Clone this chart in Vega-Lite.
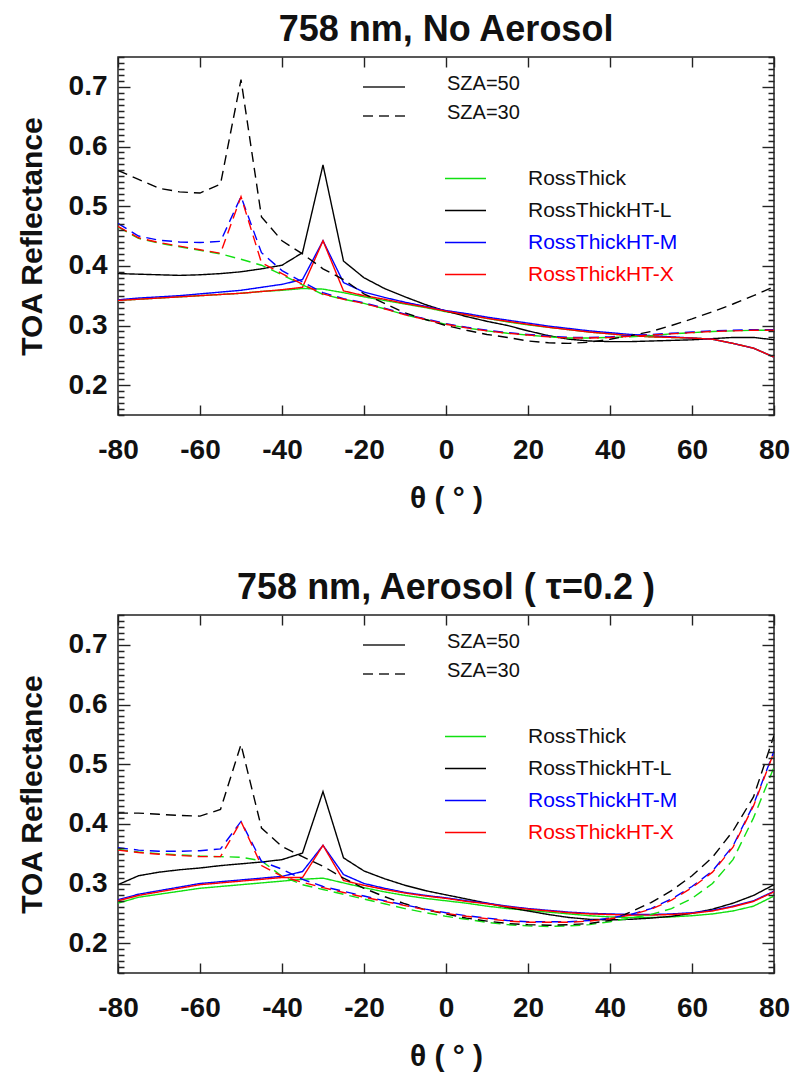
{
  "$schema": "https://vega.github.io/schema/vega-lite/v6.json",
  "padding": {"left": 16, "top": 11, "right": 14, "bottom": 5},
  "spacing": 55,
  "background": "white",
  "data": {"values": [
    {"p":1,"s":"SZA=50","t":-80,"RossThick":0.342,"RossThickHT-L":0.387,"RossThickHT-M":0.343,"RossThickHT-X":0.342},
    {"p":1,"s":"SZA=50","t":-75,"RossThick":0.344,"RossThickHT-L":0.386,"RossThickHT-M":0.346,"RossThickHT-X":0.344},
    {"p":1,"s":"SZA=50","t":-70,"RossThick":0.346,"RossThickHT-L":0.385,"RossThickHT-M":0.348,"RossThickHT-X":0.346},
    {"p":1,"s":"SZA=50","t":-65,"RossThick":0.348,"RossThickHT-L":0.384,"RossThickHT-M":0.350,"RossThickHT-X":0.348},
    {"p":1,"s":"SZA=50","t":-60,"RossThick":0.350,"RossThickHT-L":0.385,"RossThickHT-M":0.353,"RossThickHT-X":0.350},
    {"p":1,"s":"SZA=50","t":-55,"RossThick":0.352,"RossThickHT-L":0.387,"RossThickHT-M":0.356,"RossThickHT-X":0.352},
    {"p":1,"s":"SZA=50","t":-50,"RossThick":0.354,"RossThickHT-L":0.390,"RossThickHT-M":0.359,"RossThickHT-X":0.354},
    {"p":1,"s":"SZA=50","t":-45,"RossThick":0.357,"RossThickHT-L":0.395,"RossThickHT-M":0.364,"RossThickHT-X":0.357},
    {"p":1,"s":"SZA=50","t":-40,"RossThick":0.359,"RossThickHT-L":0.401,"RossThickHT-M":0.369,"RossThickHT-X":0.360},
    {"p":1,"s":"SZA=50","t":-35,"RossThick":0.362,"RossThickHT-L":0.422,"RossThickHT-M":0.377,"RossThickHT-X":0.364},
    {"p":1,"s":"SZA=50","t":-30,"RossThick":0.361,"RossThickHT-L":0.569,"RossThickHT-M":0.442,"RossThickHT-X":0.442},
    {"p":1,"s":"SZA=50","t":-25,"RossThick":0.355,"RossThickHT-L":0.408,"RossThickHT-M":0.372,"RossThickHT-X":0.358},
    {"p":1,"s":"SZA=50","t":-20,"RossThick":0.348,"RossThickHT-L":0.380,"RossThickHT-M":0.356,"RossThickHT-X":0.350},
    {"p":1,"s":"SZA=50","t":-15,"RossThick":0.342,"RossThickHT-L":0.362,"RossThickHT-M":0.347,"RossThickHT-X":0.344},
    {"p":1,"s":"SZA=50","t":-10,"RossThick":0.336,"RossThickHT-L":0.348,"RossThickHT-M":0.339,"RossThickHT-X":0.337},
    {"p":1,"s":"SZA=50","t":-5,"RossThick":0.330,"RossThickHT-L":0.335,"RossThickHT-M":0.332,"RossThickHT-X":0.331},
    {"p":1,"s":"SZA=50","t":0,"RossThick":0.323,"RossThickHT-L":0.324,"RossThickHT-M":0.325,"RossThickHT-X":0.324},
    {"p":1,"s":"SZA=50","t":5,"RossThick":0.318,"RossThickHT-L":0.315,"RossThickHT-M":0.320,"RossThickHT-X":0.318},
    {"p":1,"s":"SZA=50","t":10,"RossThick":0.312,"RossThickHT-L":0.307,"RossThickHT-M":0.314,"RossThickHT-X":0.312},
    {"p":1,"s":"SZA=50","t":15,"RossThick":0.306,"RossThickHT-L":0.300,"RossThickHT-M":0.309,"RossThickHT-X":0.307},
    {"p":1,"s":"SZA=50","t":20,"RossThick":0.301,"RossThickHT-L":0.291,"RossThickHT-M":0.304,"RossThickHT-X":0.302},
    {"p":1,"s":"SZA=50","t":25,"RossThick":0.297,"RossThickHT-L":0.283,"RossThickHT-M":0.299,"RossThickHT-X":0.297},
    {"p":1,"s":"SZA=50","t":30,"RossThick":0.293,"RossThickHT-L":0.277,"RossThickHT-M":0.295,"RossThickHT-X":0.293},
    {"p":1,"s":"SZA=50","t":35,"RossThick":0.289,"RossThickHT-L":0.274,"RossThickHT-M":0.291,"RossThickHT-X":0.289},
    {"p":1,"s":"SZA=50","t":40,"RossThick":0.286,"RossThickHT-L":0.273,"RossThickHT-M":0.288,"RossThickHT-X":0.286},
    {"p":1,"s":"SZA=50","t":45,"RossThick":0.283,"RossThickHT-L":0.273,"RossThickHT-M":0.285,"RossThickHT-X":0.283},
    {"p":1,"s":"SZA=50","t":50,"RossThick":0.281,"RossThickHT-L":0.274,"RossThickHT-M":0.283,"RossThickHT-X":0.281},
    {"p":1,"s":"SZA=50","t":55,"RossThick":0.280,"RossThickHT-L":0.275,"RossThickHT-M":0.281,"RossThickHT-X":0.280},
    {"p":1,"s":"SZA=50","t":60,"RossThick":0.279,"RossThickHT-L":0.276,"RossThickHT-M":0.279,"RossThickHT-X":0.279},
    {"p":1,"s":"SZA=50","t":65,"RossThick":0.277,"RossThickHT-L":0.278,"RossThickHT-M":0.277,"RossThickHT-X":0.277},
    {"p":1,"s":"SZA=50","t":70,"RossThick":0.270,"RossThickHT-L":0.280,"RossThickHT-M":0.270,"RossThickHT-X":0.270},
    {"p":1,"s":"SZA=50","t":75,"RossThick":0.262,"RossThickHT-L":0.280,"RossThickHT-M":0.262,"RossThickHT-X":0.262},
    {"p":1,"s":"SZA=50","t":80,"RossThick":0.247,"RossThickHT-L":0.276,"RossThickHT-M":0.247,"RossThickHT-X":0.247},

    {"p":1,"s":"SZA=30","t":-80,"RossThick":0.465,"RossThickHT-L":0.560,"RossThickHT-M":0.471,"RossThickHT-X":0.466},
    {"p":1,"s":"SZA=30","t":-75,"RossThick":0.446,"RossThickHT-L":0.545,"RossThickHT-M":0.450,"RossThickHT-X":0.447},
    {"p":1,"s":"SZA=30","t":-70,"RossThick":0.438,"RossThickHT-L":0.530,"RossThickHT-M":0.443,"RossThickHT-X":0.439},
    {"p":1,"s":"SZA=30","t":-65,"RossThick":0.432,"RossThickHT-L":0.524,"RossThickHT-M":0.440,"RossThickHT-X":0.433},
    {"p":1,"s":"SZA=30","t":-60,"RossThick":0.426,"RossThickHT-L":0.522,"RossThickHT-M":0.439,"RossThickHT-X":0.427},
    {"p":1,"s":"SZA=30","t":-55,"RossThick":0.420,"RossThickHT-L":0.537,"RossThickHT-M":0.441,"RossThickHT-X":0.421},
    {"p":1,"s":"SZA=30","t":-50,"RossThick":0.411,"RossThickHT-L":0.712,"RossThickHT-M":0.516,"RossThickHT-X":0.516},
    {"p":1,"s":"SZA=30","t":-45,"RossThick":0.401,"RossThickHT-L":0.482,"RossThickHT-M":0.422,"RossThickHT-X":0.405},
    {"p":1,"s":"SZA=30","t":-40,"RossThick":0.385,"RossThickHT-L":0.442,"RossThickHT-M":0.392,"RossThickHT-X":0.387},
    {"p":1,"s":"SZA=30","t":-35,"RossThick":0.368,"RossThickHT-L":0.420,"RossThickHT-M":0.373,"RossThickHT-X":0.369},
    {"p":1,"s":"SZA=30","t":-30,"RossThick":0.352,"RossThickHT-L":0.395,"RossThickHT-M":0.355,"RossThickHT-X":0.353},
    {"p":1,"s":"SZA=30","t":-25,"RossThick":0.344,"RossThickHT-L":0.377,"RossThickHT-M":0.345,"RossThickHT-X":0.344},
    {"p":1,"s":"SZA=30","t":-20,"RossThick":0.337,"RossThickHT-L":0.353,"RossThickHT-M":0.338,"RossThickHT-X":0.337},
    {"p":1,"s":"SZA=30","t":-15,"RossThick":0.328,"RossThickHT-L":0.337,"RossThickHT-M":0.329,"RossThickHT-X":0.328},
    {"p":1,"s":"SZA=30","t":-10,"RossThick":0.318,"RossThickHT-L":0.321,"RossThickHT-M":0.319,"RossThickHT-X":0.318},
    {"p":1,"s":"SZA=30","t":-5,"RossThick":0.310,"RossThickHT-L":0.310,"RossThickHT-M":0.311,"RossThickHT-X":0.310},
    {"p":1,"s":"SZA=30","t":0,"RossThick":0.302,"RossThickHT-L":0.300,"RossThickHT-M":0.303,"RossThickHT-X":0.302},
    {"p":1,"s":"SZA=30","t":5,"RossThick":0.296,"RossThickHT-L":0.292,"RossThickHT-M":0.297,"RossThickHT-X":0.296},
    {"p":1,"s":"SZA=30","t":10,"RossThick":0.291,"RossThickHT-L":0.285,"RossThickHT-M":0.292,"RossThickHT-X":0.291},
    {"p":1,"s":"SZA=30","t":15,"RossThick":0.287,"RossThickHT-L":0.280,"RossThickHT-M":0.288,"RossThickHT-X":0.287},
    {"p":1,"s":"SZA=30","t":20,"RossThick":0.284,"RossThickHT-L":0.274,"RossThickHT-M":0.285,"RossThickHT-X":0.284},
    {"p":1,"s":"SZA=30","t":25,"RossThick":0.281,"RossThickHT-L":0.271,"RossThickHT-M":0.282,"RossThickHT-X":0.281},
    {"p":1,"s":"SZA=30","t":30,"RossThick":0.279,"RossThickHT-L":0.270,"RossThickHT-M":0.280,"RossThickHT-X":0.279},
    {"p":1,"s":"SZA=30","t":35,"RossThick":0.279,"RossThickHT-L":0.272,"RossThickHT-M":0.280,"RossThickHT-X":0.279},
    {"p":1,"s":"SZA=30","t":40,"RossThick":0.280,"RossThickHT-L":0.277,"RossThickHT-M":0.281,"RossThickHT-X":0.280},
    {"p":1,"s":"SZA=30","t":45,"RossThick":0.281,"RossThickHT-L":0.283,"RossThickHT-M":0.283,"RossThickHT-X":0.282},
    {"p":1,"s":"SZA=30","t":50,"RossThick":0.283,"RossThickHT-L":0.290,"RossThickHT-M":0.285,"RossThickHT-X":0.284},
    {"p":1,"s":"SZA=30","t":55,"RossThick":0.286,"RossThickHT-L":0.300,"RossThickHT-M":0.287,"RossThickHT-X":0.286},
    {"p":1,"s":"SZA=30","t":60,"RossThick":0.288,"RossThickHT-L":0.311,"RossThickHT-M":0.289,"RossThickHT-X":0.288},
    {"p":1,"s":"SZA=30","t":65,"RossThick":0.290,"RossThickHT-L":0.323,"RossThickHT-M":0.291,"RossThickHT-X":0.290},
    {"p":1,"s":"SZA=30","t":70,"RossThick":0.291,"RossThickHT-L":0.336,"RossThickHT-M":0.292,"RossThickHT-X":0.291},
    {"p":1,"s":"SZA=30","t":75,"RossThick":0.292,"RossThickHT-L":0.350,"RossThickHT-M":0.293,"RossThickHT-X":0.292},
    {"p":1,"s":"SZA=30","t":80,"RossThick":0.292,"RossThickHT-L":0.365,"RossThickHT-M":0.293,"RossThickHT-X":0.292},

    {"p":2,"s":"SZA=50","t":-80,"RossThick":0.267,"RossThickHT-L":0.298,"RossThickHT-M":0.273,"RossThickHT-X":0.271},
    {"p":2,"s":"SZA=50","t":-75,"RossThick":0.277,"RossThickHT-L":0.313,"RossThickHT-M":0.282,"RossThickHT-X":0.280},
    {"p":2,"s":"SZA=50","t":-70,"RossThick":0.282,"RossThickHT-L":0.319,"RossThickHT-M":0.288,"RossThickHT-X":0.286},
    {"p":2,"s":"SZA=50","t":-65,"RossThick":0.287,"RossThickHT-L":0.323,"RossThickHT-M":0.294,"RossThickHT-X":0.292},
    {"p":2,"s":"SZA=50","t":-60,"RossThick":0.292,"RossThickHT-L":0.326,"RossThickHT-M":0.300,"RossThickHT-X":0.298},
    {"p":2,"s":"SZA=50","t":-55,"RossThick":0.295,"RossThickHT-L":0.330,"RossThickHT-M":0.303,"RossThickHT-X":0.301},
    {"p":2,"s":"SZA=50","t":-50,"RossThick":0.298,"RossThickHT-L":0.333,"RossThickHT-M":0.306,"RossThickHT-X":0.304},
    {"p":2,"s":"SZA=50","t":-45,"RossThick":0.301,"RossThickHT-L":0.336,"RossThickHT-M":0.309,"RossThickHT-X":0.307},
    {"p":2,"s":"SZA=50","t":-40,"RossThick":0.304,"RossThickHT-L":0.340,"RossThickHT-M":0.312,"RossThickHT-X":0.310},
    {"p":2,"s":"SZA=50","t":-35,"RossThick":0.307,"RossThickHT-L":0.351,"RossThickHT-M":0.320,"RossThickHT-X":0.310},
    {"p":2,"s":"SZA=50","t":-30,"RossThick":0.309,"RossThickHT-L":0.454,"RossThickHT-M":0.364,"RossThickHT-X":0.364},
    {"p":2,"s":"SZA=50","t":-25,"RossThick":0.301,"RossThickHT-L":0.343,"RossThickHT-M":0.315,"RossThickHT-X":0.305},
    {"p":2,"s":"SZA=50","t":-20,"RossThick":0.293,"RossThickHT-L":0.321,"RossThickHT-M":0.300,"RossThickHT-X":0.297},
    {"p":2,"s":"SZA=50","t":-15,"RossThick":0.286,"RossThickHT-L":0.308,"RossThickHT-M":0.292,"RossThickHT-X":0.290},
    {"p":2,"s":"SZA=50","t":-10,"RossThick":0.280,"RossThickHT-L":0.297,"RossThickHT-M":0.285,"RossThickHT-X":0.284},
    {"p":2,"s":"SZA=50","t":-5,"RossThick":0.275,"RossThickHT-L":0.288,"RossThickHT-M":0.280,"RossThickHT-X":0.279},
    {"p":2,"s":"SZA=50","t":0,"RossThick":0.271,"RossThickHT-L":0.281,"RossThickHT-M":0.276,"RossThickHT-X":0.275},
    {"p":2,"s":"SZA=50","t":5,"RossThick":0.267,"RossThickHT-L":0.274,"RossThickHT-M":0.271,"RossThickHT-X":0.270},
    {"p":2,"s":"SZA=50","t":10,"RossThick":0.262,"RossThickHT-L":0.267,"RossThickHT-M":0.267,"RossThickHT-X":0.266},
    {"p":2,"s":"SZA=50","t":15,"RossThick":0.258,"RossThickHT-L":0.260,"RossThickHT-M":0.262,"RossThickHT-X":0.261},
    {"p":2,"s":"SZA=50","t":20,"RossThick":0.255,"RossThickHT-L":0.254,"RossThickHT-M":0.258,"RossThickHT-X":0.257},
    {"p":2,"s":"SZA=50","t":25,"RossThick":0.252,"RossThickHT-L":0.248,"RossThickHT-M":0.255,"RossThickHT-X":0.254},
    {"p":2,"s":"SZA=50","t":30,"RossThick":0.249,"RossThickHT-L":0.243,"RossThickHT-M":0.252,"RossThickHT-X":0.251},
    {"p":2,"s":"SZA=50","t":35,"RossThick":0.246,"RossThickHT-L":0.240,"RossThickHT-M":0.250,"RossThickHT-X":0.249},
    {"p":2,"s":"SZA=50","t":40,"RossThick":0.244,"RossThickHT-L":0.239,"RossThickHT-M":0.249,"RossThickHT-X":0.248},
    {"p":2,"s":"SZA=50","t":45,"RossThick":0.243,"RossThickHT-L":0.240,"RossThickHT-M":0.248,"RossThickHT-X":0.247},
    {"p":2,"s":"SZA=50","t":50,"RossThick":0.243,"RossThickHT-L":0.242,"RossThickHT-M":0.248,"RossThickHT-X":0.247},
    {"p":2,"s":"SZA=50","t":55,"RossThick":0.244,"RossThickHT-L":0.245,"RossThickHT-M":0.249,"RossThickHT-X":0.248},
    {"p":2,"s":"SZA=50","t":60,"RossThick":0.246,"RossThickHT-L":0.250,"RossThickHT-M":0.251,"RossThickHT-X":0.250},
    {"p":2,"s":"SZA=50","t":65,"RossThick":0.249,"RossThickHT-L":0.257,"RossThickHT-M":0.255,"RossThickHT-X":0.254},
    {"p":2,"s":"SZA=50","t":70,"RossThick":0.254,"RossThickHT-L":0.267,"RossThickHT-M":0.262,"RossThickHT-X":0.261},
    {"p":2,"s":"SZA=50","t":75,"RossThick":0.262,"RossThickHT-L":0.280,"RossThickHT-M":0.271,"RossThickHT-X":0.270},
    {"p":2,"s":"SZA=50","t":80,"RossThick":0.279,"RossThickHT-L":0.298,"RossThickHT-M":0.287,"RossThickHT-X":0.286},

    {"p":2,"s":"SZA=30","t":-80,"RossThick":0.357,"RossThickHT-L":0.418,"RossThickHT-M":0.360,"RossThickHT-X":0.356},
    {"p":2,"s":"SZA=30","t":-75,"RossThick":0.353,"RossThickHT-L":0.418,"RossThickHT-M":0.356,"RossThickHT-X":0.352},
    {"p":2,"s":"SZA=30","t":-70,"RossThick":0.350,"RossThickHT-L":0.416,"RossThickHT-M":0.354,"RossThickHT-X":0.349},
    {"p":2,"s":"SZA=30","t":-65,"RossThick":0.348,"RossThickHT-L":0.414,"RossThickHT-M":0.354,"RossThickHT-X":0.347},
    {"p":2,"s":"SZA=30","t":-60,"RossThick":0.346,"RossThickHT-L":0.413,"RossThickHT-M":0.355,"RossThickHT-X":0.345},
    {"p":2,"s":"SZA=30","t":-55,"RossThick":0.345,"RossThickHT-L":0.424,"RossThickHT-M":0.358,"RossThickHT-X":0.345},
    {"p":2,"s":"SZA=30","t":-50,"RossThick":0.344,"RossThickHT-L":0.533,"RossThickHT-M":0.404,"RossThickHT-X":0.404},
    {"p":2,"s":"SZA=30","t":-45,"RossThick":0.338,"RossThickHT-L":0.393,"RossThickHT-M":0.337,"RossThickHT-X":0.330},
    {"p":2,"s":"SZA=30","t":-40,"RossThick":0.312,"RossThickHT-L":0.362,"RossThickHT-M":0.324,"RossThickHT-X":0.312},
    {"p":2,"s":"SZA=30","t":-35,"RossThick":0.298,"RossThickHT-L":0.345,"RossThickHT-M":0.307,"RossThickHT-X":0.302},
    {"p":2,"s":"SZA=30","t":-30,"RossThick":0.290,"RossThickHT-L":0.329,"RossThickHT-M":0.295,"RossThickHT-X":0.293},
    {"p":2,"s":"SZA=30","t":-25,"RossThick":0.282,"RossThickHT-L":0.309,"RossThickHT-M":0.287,"RossThickHT-X":0.285},
    {"p":2,"s":"SZA=30","t":-20,"RossThick":0.274,"RossThickHT-L":0.292,"RossThickHT-M":0.279,"RossThickHT-X":0.277},
    {"p":2,"s":"SZA=30","t":-15,"RossThick":0.266,"RossThickHT-L":0.278,"RossThickHT-M":0.271,"RossThickHT-X":0.270},
    {"p":2,"s":"SZA=30","t":-10,"RossThick":0.258,"RossThickHT-L":0.266,"RossThickHT-M":0.264,"RossThickHT-X":0.263},
    {"p":2,"s":"SZA=30","t":-5,"RossThick":0.251,"RossThickHT-L":0.256,"RossThickHT-M":0.257,"RossThickHT-X":0.256},
    {"p":2,"s":"SZA=30","t":0,"RossThick":0.245,"RossThickHT-L":0.249,"RossThickHT-M":0.251,"RossThickHT-X":0.250},
    {"p":2,"s":"SZA=30","t":5,"RossThick":0.240,"RossThickHT-L":0.242,"RossThickHT-M":0.246,"RossThickHT-X":0.245},
    {"p":2,"s":"SZA=30","t":10,"RossThick":0.235,"RossThickHT-L":0.237,"RossThickHT-M":0.242,"RossThickHT-X":0.241},
    {"p":2,"s":"SZA=30","t":15,"RossThick":0.231,"RossThickHT-L":0.233,"RossThickHT-M":0.238,"RossThickHT-X":0.237},
    {"p":2,"s":"SZA=30","t":20,"RossThick":0.229,"RossThickHT-L":0.231,"RossThickHT-M":0.236,"RossThickHT-X":0.235},
    {"p":2,"s":"SZA=30","t":25,"RossThick":0.228,"RossThickHT-L":0.230,"RossThickHT-M":0.236,"RossThickHT-X":0.235},
    {"p":2,"s":"SZA=30","t":30,"RossThick":0.229,"RossThickHT-L":0.231,"RossThickHT-M":0.236,"RossThickHT-X":0.235},
    {"p":2,"s":"SZA=30","t":35,"RossThick":0.231,"RossThickHT-L":0.233,"RossThickHT-M":0.238,"RossThickHT-X":0.237},
    {"p":2,"s":"SZA=30","t":40,"RossThick":0.236,"RossThickHT-L":0.238,"RossThickHT-M":0.242,"RossThickHT-X":0.241},
    {"p":2,"s":"SZA=30","t":45,"RossThick":0.242,"RossThickHT-L":0.252,"RossThickHT-M":0.248,"RossThickHT-X":0.247},
    {"p":2,"s":"SZA=30","t":50,"RossThick":0.248,"RossThickHT-L":0.268,"RossThickHT-M":0.258,"RossThickHT-X":0.257},
    {"p":2,"s":"SZA=30","t":55,"RossThick":0.258,"RossThickHT-L":0.288,"RossThickHT-M":0.274,"RossThickHT-X":0.272},
    {"p":2,"s":"SZA=30","t":60,"RossThick":0.275,"RossThickHT-L":0.313,"RossThickHT-M":0.295,"RossThickHT-X":0.293},
    {"p":2,"s":"SZA=30","t":65,"RossThick":0.300,"RossThickHT-L":0.344,"RossThickHT-M":0.321,"RossThickHT-X":0.319},
    {"p":2,"s":"SZA=30","t":70,"RossThick":0.340,"RossThickHT-L":0.388,"RossThickHT-M":0.363,"RossThickHT-X":0.361},
    {"p":2,"s":"SZA=30","t":75,"RossThick":0.410,"RossThickHT-L":0.445,"RossThickHT-M":0.432,"RossThickHT-X":0.430},
    {"p":2,"s":"SZA=30","t":80,"RossThick":0.495,"RossThickHT-L":0.548,"RossThickHT-M":0.522,"RossThickHT-X":0.520}
  ]},
  "transform": [
    {"fold": ["RossThick", "RossThickHT-L", "RossThickHT-M", "RossThickHT-X"], "as": ["model", "r"]}
  ],
  "vconcat": [
    {
      "width": 656, "height": 358,
      "title": {"text": "758 nm, No Aerosol"},
      "transform": [{"filter": "datum.p === 1"}],
      "layer": [
        {
          "mark": {"type": "line", "strokeWidth": 1.4, "clip": true},
          "encoding": {
            "x": {"field": "t", "type": "quantitative", "scale": {"domain": [-80, 80], "nice": false, "zero": false},
                  "axis": {"orient": "bottom", "zindex": 2, "values": [-80, -60, -40, -20, 0, 20, 40, 60, 80], "labelExpr": "'' + datum.value", "offset": -10, "tickSize": 10, "labelPadding": 21, "title": "θ ( ° )", "titlePadding": 19, "labelFlush": false}},
            "y": {"field": "r", "type": "quantitative", "scale": {"domain": [0.15, 0.75], "nice": false, "zero": false},
                  "axis": {"orient": "left", "zindex": 2, "offset": -12, "tickSize": 12, "values": [0.15,0.16,0.17,0.18,0.19,0.2,0.21,0.22,0.23,0.24,0.25,0.26,0.27,0.28,0.29,0.3,0.31,0.32,0.33,0.34,0.35,0.36,0.37,0.38,0.39,0.4,0.41,0.42,0.43,0.44,0.45,0.46,0.47,0.48,0.49,0.5,0.51,0.52,0.53,0.54,0.55,0.56,0.57,0.58,0.59,0.6,0.61,0.62,0.63,0.64,0.65,0.66,0.67,0.68,0.69,0.7,0.71,0.72,0.73,0.74,0.75],
                    "labelExpr": "abs(datum.value*10 - round(datum.value*10)) < 0.001 ? format(datum.value, '.1f') : ''",
                    "tickDash": {"condition": {"test": "abs(datum.value*10 - round(datum.value*10)) < 0.001", "value": [12, 0]}, "value": [0, 6, 6, 0]},
                    "labelPadding": 11, "title": "TOA Reflectance", "titlePadding": 21}},
            "color": {"field": "model", "type": "nominal",
                      "scale": {"domain": ["RossThick", "RossThickHT-L", "RossThickHT-M", "RossThickHT-X"], "range": ["#11e011", "#000000", "#0000ff", "#ff0000"]},
                      "legend": {"orient": "none", "legendX": 326, "legendY": 100, "title": null, "symbolType": "stroke", "symbolSize": 1681, "symbolStrokeWidth": 1.5, "labelFontSize": 21, "labelOffset": 41, "rowPadding": -15, "padding": 0,
                                 "encode": {"labels": {"update": {"fill": {"signal": "datum.value === 'RossThickHT-M' ? '#0000ff' : datum.value === 'RossThickHT-X' ? '#ff0000' : '#111111'"}}}}}},
            "strokeDash": {"field": "s", "type": "nominal",
                           "scale": {"domain": ["SZA=50", "SZA=30"], "range": [[1, 0], [10, 6]]},
                           "legend": {"orient": "none", "legendX": 244, "legendY": 8, "title": null, "symbolType": "stroke", "symbolSize": 1764, "symbolStrokeWidth": 1.3, "symbolStrokeColor": "#222222", "labelFontSize": 20, "labelOffset": 41, "rowPadding": -9, "padding": 0, "labelColor": "#111111",
                                      "encode": {"labels": {"update": {"dy": {"value": -3}}}}}}
          }
        },
        {
          "mark": {"type": "line", "strokeOpacity": 0},
          "encoding": {
            "x": {"field": "t", "type": "quantitative", "axis": {"orient": "top", "zindex": 2, "offset": -10, "tickSize": 10, "values": [-80, -60, -40, -20, 0, 20, 40, 60, 80], "labels": false, "title": null}},
            "y": {"field": "r", "type": "quantitative",
                  "axis": {"orient": "right", "zindex": 2, "offset": -12, "tickSize": 12, "values": [0.15,0.16,0.17,0.18,0.19,0.2,0.21,0.22,0.23,0.24,0.25,0.26,0.27,0.28,0.29,0.3,0.31,0.32,0.33,0.34,0.35,0.36,0.37,0.38,0.39,0.4,0.41,0.42,0.43,0.44,0.45,0.46,0.47,0.48,0.49,0.5,0.51,0.52,0.53,0.54,0.55,0.56,0.57,0.58,0.59,0.6,0.61,0.62,0.63,0.64,0.65,0.66,0.67,0.68,0.69,0.7,0.71,0.72,0.73,0.74,0.75],
                    "labels": false, "title": null,
                    "tickDash": {"condition": {"test": "abs(datum.value*10 - round(datum.value*10)) < 0.001", "value": [12, 0]}, "value": [0, 6, 6, 0]}}},
            "detail": {"field": "model", "type": "nominal"}
          }
        }
      ],
      "resolve": {"axis": {"x": "independent", "y": "independent"}}
    },
    {
      "width": 656, "height": 358,
      "title": {"text": "758 nm, Aerosol ( τ=0.2 )"},
      "transform": [{"filter": "datum.p === 2"}],
      "layer": [
        {
          "mark": {"type": "line", "strokeWidth": 1.4, "clip": true},
          "encoding": {
            "x": {"field": "t", "type": "quantitative", "scale": {"domain": [-80, 80], "nice": false, "zero": false},
                  "axis": {"orient": "bottom", "zindex": 2, "values": [-80, -60, -40, -20, 0, 20, 40, 60, 80], "labelExpr": "'' + datum.value", "offset": -10, "tickSize": 10, "labelPadding": 21, "title": "θ ( ° )", "titlePadding": 19, "labelFlush": false}},
            "y": {"field": "r", "type": "quantitative", "scale": {"domain": [0.15, 0.75], "nice": false, "zero": false},
                  "axis": {"orient": "left", "zindex": 2, "offset": -12, "tickSize": 12, "values": [0.15,0.16,0.17,0.18,0.19,0.2,0.21,0.22,0.23,0.24,0.25,0.26,0.27,0.28,0.29,0.3,0.31,0.32,0.33,0.34,0.35,0.36,0.37,0.38,0.39,0.4,0.41,0.42,0.43,0.44,0.45,0.46,0.47,0.48,0.49,0.5,0.51,0.52,0.53,0.54,0.55,0.56,0.57,0.58,0.59,0.6,0.61,0.62,0.63,0.64,0.65,0.66,0.67,0.68,0.69,0.7,0.71,0.72,0.73,0.74,0.75],
                    "labelExpr": "abs(datum.value*10 - round(datum.value*10)) < 0.001 ? format(datum.value, '.1f') : ''",
                    "tickDash": {"condition": {"test": "abs(datum.value*10 - round(datum.value*10)) < 0.001", "value": [12, 0]}, "value": [0, 6, 6, 0]},
                    "labelPadding": 11, "title": "TOA Reflectance", "titlePadding": 21}},
            "color": {"field": "model", "type": "nominal",
                      "scale": {"domain": ["RossThick", "RossThickHT-L", "RossThickHT-M", "RossThickHT-X"], "range": ["#11e011", "#000000", "#0000ff", "#ff0000"]},
                      "legend": {"orient": "none", "legendX": 326, "legendY": 100, "title": null, "symbolType": "stroke", "symbolSize": 1681, "symbolStrokeWidth": 1.5, "labelFontSize": 21, "labelOffset": 41, "rowPadding": -15, "padding": 0,
                                 "encode": {"labels": {"update": {"fill": {"signal": "datum.value === 'RossThickHT-M' ? '#0000ff' : datum.value === 'RossThickHT-X' ? '#ff0000' : '#111111'"}}}}}},
            "strokeDash": {"field": "s", "type": "nominal",
                           "scale": {"domain": ["SZA=50", "SZA=30"], "range": [[1, 0], [10, 6]]},
                           "legend": {"orient": "none", "legendX": 244, "legendY": 8, "title": null, "symbolType": "stroke", "symbolSize": 1764, "symbolStrokeWidth": 1.3, "symbolStrokeColor": "#222222", "labelFontSize": 20, "labelOffset": 41, "rowPadding": -9, "padding": 0, "labelColor": "#111111",
                                      "encode": {"labels": {"update": {"dy": {"value": -3}}}}}}
          }
        },
        {
          "mark": {"type": "line", "strokeOpacity": 0},
          "encoding": {
            "x": {"field": "t", "type": "quantitative", "axis": {"orient": "top", "zindex": 2, "offset": -10, "tickSize": 10, "values": [-80, -60, -40, -20, 0, 20, 40, 60, 80], "labels": false, "title": null}},
            "y": {"field": "r", "type": "quantitative",
                  "axis": {"orient": "right", "zindex": 2, "offset": -12, "tickSize": 12, "values": [0.15,0.16,0.17,0.18,0.19,0.2,0.21,0.22,0.23,0.24,0.25,0.26,0.27,0.28,0.29,0.3,0.31,0.32,0.33,0.34,0.35,0.36,0.37,0.38,0.39,0.4,0.41,0.42,0.43,0.44,0.45,0.46,0.47,0.48,0.49,0.5,0.51,0.52,0.53,0.54,0.55,0.56,0.57,0.58,0.59,0.6,0.61,0.62,0.63,0.64,0.65,0.66,0.67,0.68,0.69,0.7,0.71,0.72,0.73,0.74,0.75],
                    "labels": false, "title": null,
                    "tickDash": {"condition": {"test": "abs(datum.value*10 - round(datum.value*10)) < 0.001", "value": [12, 0]}, "value": [0, 6, 6, 0]}}},
            "detail": {"field": "model", "type": "nominal"}
          }
        }
      ],
      "resolve": {"axis": {"x": "independent", "y": "independent"}}
    }
  ],
  "resolve": {"scale": {"color": "independent", "strokeDash": "independent"}, "legend": {"color": "independent", "strokeDash": "independent"}},
  "config": {
    "font": "Liberation Sans",
    "view": {"stroke": "#222222", "strokeWidth": 1.5},
    "axis": {"domain": false, "grid": false, "ticks": true, "labelFont": "Liberation Sans", "labelFontWeight": "bold", "labelFontSize": 28, "labelColor": "#111111", "titleFont": "Liberation Sans", "titleFontWeight": "bold", "titleFontSize": 30, "titleColor": "#111111", "tickColor": "#222222", "tickWidth": 1.4},
    "title": {"font": "Liberation Sans", "fontSize": 36, "fontWeight": "bold", "color": "#111111", "anchor": "middle", "offset": 7},
    "legend": {"labelFont": "Liberation Sans", "labelFontWeight": "normal"}
  }
}
